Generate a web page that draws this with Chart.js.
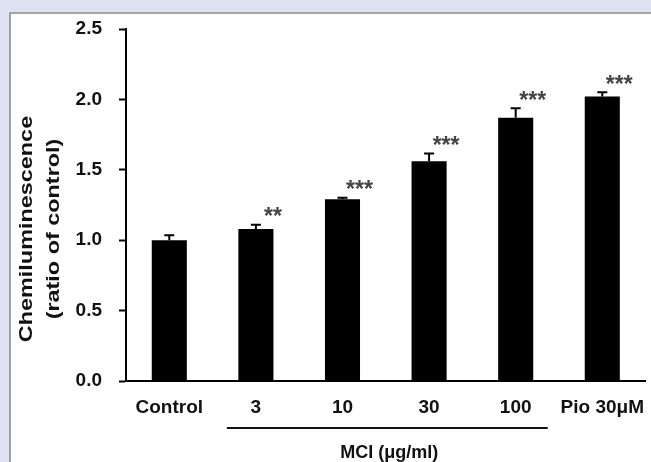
<!DOCTYPE html>
<html>
<head>
<meta charset="utf-8">
<script src="https://cdn.jsdelivr.net/npm/chart.js@4.4.1/dist/chart.umd.min.js"></script>
<style>
  html, body { margin: 0; padding: 0; background: #dfe3f1; }
  canvas { display: block; }
</style>
</head>
<body>
<canvas id="chemiChart" width="651" height="462"></canvas>
<script>
const categories = ['Control', '3', '10', '30', '100', 'Pio 30μM'];
const means = [1.00, 1.08, 1.29, 1.56, 1.87, 2.02];
const errors = [0.035, 0.03, 0.012, 0.055, 0.067, 0.03];
const stars = ['', '**', '***', '***', '***', '***'];
const yTicks = [0, 0.5, 1.0, 1.5, 2.0, 2.5];
const yTitle = ['Chemiluminescence', '(ratio of control)'];
const groupLabel = 'MCI (μg/ml)';

const FONT = '"Liberation Sans", Arial, sans-serif';

const panelPlugin = {
    id: 'panel',
    beforeDraw: function(chart) {
        const ctx = chart.ctx;
        ctx.save();
        ctx.fillStyle = '#dfe3f1';
        ctx.fillRect(0, 0, chart.width, chart.height);
        ctx.fillStyle = '#ffffff';
        ctx.fillRect(10, 13, chart.width, chart.height);
        ctx.strokeStyle = '#8a8a8a';
        ctx.lineWidth = 1.5;
        ctx.beginPath();
        ctx.moveTo(10, chart.height);
        ctx.lineTo(10, 13);
        ctx.lineTo(chart.width, 13);
        ctx.stroke();
        ctx.restore();
    }
};

const extrasPlugin = {
    id: 'extras',
    afterDatasetsDraw: function(chart) {
        const ctx = chart.ctx;
        const x = chart.scales.x;
        const y = chart.scales.y;
        ctx.save();

        // error bars (upper only)
        ctx.strokeStyle = '#000';
        ctx.lineWidth = 2;
        means.forEach((m, i) => {
            const cx = x.getPixelForValue(i);
            const y0 = y.getPixelForValue(m);
            const y1 = y.getPixelForValue(m + errors[i]);
            ctx.beginPath();
            ctx.moveTo(cx, y0);
            ctx.lineTo(cx, y1);
            ctx.moveTo(cx - 5, y1);
            ctx.lineTo(cx + 5, y1);
            ctx.stroke();
        });

        // significance stars
        ctx.fillStyle = '#444';
        ctx.font = 'bold 23px ' + FONT;
        ctx.textAlign = 'center';
        ctx.textBaseline = 'middle';
        stars.forEach((s, i) => {
            if (!s) return;
            const cx = x.getPixelForValue(i) + 17;
            const top = y.getPixelForValue(means[i] + errors[i]);
            ctx.fillText(s, cx, top - 7);
        });

        // MCI bracket line and label
        const xa = x.getPixelForValue(1) - 29;
        const xb = x.getPixelForValue(4) + 32;
        ctx.strokeStyle = '#111';
        ctx.lineWidth = 2;
        ctx.beginPath();
        ctx.moveTo(xa, 428);
        ctx.lineTo(xb, 428);
        ctx.stroke();
        ctx.fillStyle = '#111';
        ctx.font = 'bold 18px ' + FONT;
        ctx.textBaseline = 'alphabetic';
        ctx.fillText(groupLabel, (xa + xb) / 2 + 2, 458);

        // y axis title, two rotated lines
        ctx.translate(0, 229);
        ctx.rotate(-Math.PI / 2);
        ctx.scale(1.3, 1);
        ctx.font = 'bold 18px ' + FONT;
        ctx.textBaseline = 'middle';
        ctx.fillText(yTitle[0], 0, 27);
        ctx.fillText(yTitle[1], 0, 54);
        ctx.restore();
    }
};

const ctx = document.getElementById('chemiChart').getContext('2d');
new Chart(ctx, {
    type: 'bar',
    data: {
        labels: categories,
        datasets: [{
            data: means,
            backgroundColor: '#000',
            borderWidth: 0,
            barPercentage: 0.405,
            categoryPercentage: 1.0
        }]
    },
    options: {
        responsive: false,
        animation: false,
        layout: { padding: { top: 29, right: 0, left: 0, bottom: 0 } },
        plugins: {
            legend: { display: false },
            tooltip: { enabled: false }
        },
        scales: {
            x: {
                grid: { display: false },
                border: { color: '#000', width: 2 },
                ticks: {
                    color: '#111',
                    font: { family: FONT, size: 19, weight: 'bold' },
                    padding: 7,
                    maxRotation: 0,
                    autoSkip: false
                },
                afterFit: function(scale) { scale.height = 81; }
            },
            y: {
                min: 0,
                max: 2.5,
                afterBuildTicks: function(scale) {
                    scale.ticks = yTicks.map(v => ({ value: v }));
                },
                grid: {
                    drawOnChartArea: false,
                    drawTicks: true,
                    tickLength: 7,
                    tickWidth: 2,
                    tickColor: '#000'
                },
                border: { color: '#000', width: 2 },
                ticks: {
                    color: '#111',
                    font: { family: FONT, size: 19, weight: 'bold' },
                    padding: 17,
                    callback: function(v) { return Number(v).toFixed(1); }
                },
                afterFit: function(scale) { scale.width = 126; }
            }
        }
    },
    plugins: [panelPlugin, extrasPlugin]
});
</script>
</body>
</html>
